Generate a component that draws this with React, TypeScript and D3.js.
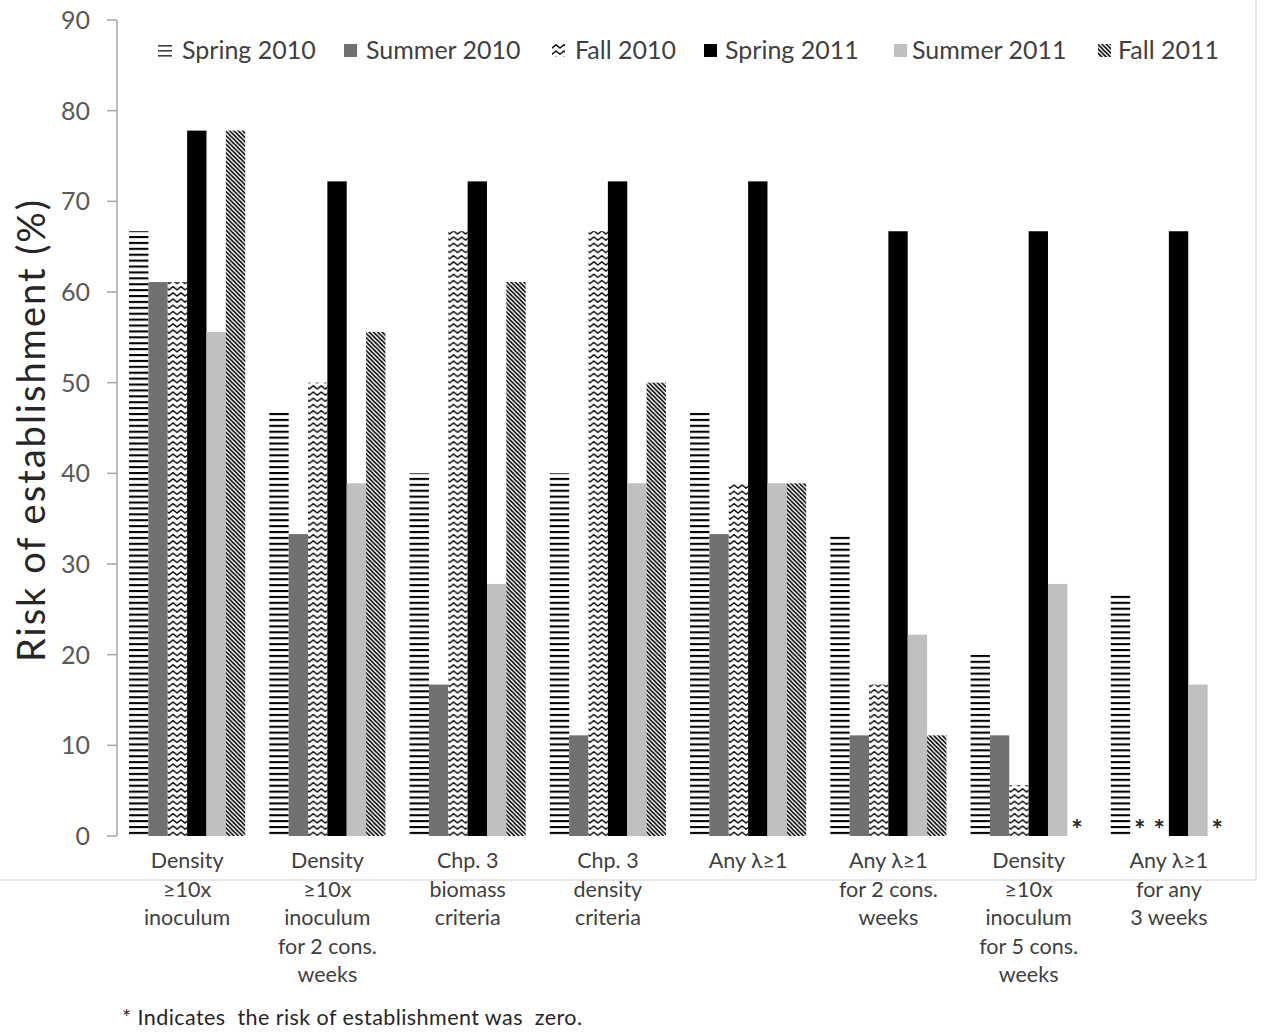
import React from "react";
import * as d3 from "d3";

// Establishment criteria (x categories), one label line per entry
const categories: string[][] = [
  ["Density", "≥10x", "inoculum"],
  ["Density", "≥10x", "inoculum", "for 2 cons.", "weeks"],
  ["Chp. 3", "biomass", "criteria"],
  ["Chp. 3", "density", "criteria"],
  ["Any λ≥1"],
  ["Any λ≥1", "for 2 cons.", "weeks"],
  ["Density", "≥10x", "inoculum", "for 5 cons.", "weeks"],
  ["Any λ≥1", "for any", "3 weeks"],
];

const seriesNames = ["Spring 2010", "Summer 2010", "Fall 2010", "Spring 2011", "Summer 2011", "Fall 2011"];

// Risk of establishment (%) per criterion, one array per season
const spring2010 = [66.7, 46.7, 40.0, 40.0, 46.7, 33.3, 20.0, 26.7];
const summer2010 = [61.1, 33.3, 16.7, 11.1, 33.3, 11.1, 11.1, 0];
const fall2010 = [61.1, 50.0, 66.7, 66.7, 38.9, 16.7, 5.6, 0];
const spring2011 = [77.8, 72.2, 72.2, 72.2, 72.2, 66.7, 66.7, 66.7];
const summer2011 = [55.6, 38.9, 27.8, 38.9, 38.9, 22.2, 27.8, 16.7];
const fall2011 = [77.8, 55.6, 61.1, 50.0, 38.9, 11.1, 0, 0];

const yTicks = [0, 10, 20, 30, 40, 50, 60, 70, 80, 90];

const seriesValues = [spring2010, summer2010, fall2010, spring2011, summer2011, fall2011];
const seriesFills = [
  "url(#pat-hlines)",
  "#717171",
  "url(#pat-wave)",
  "#000000",
  "#bfbfbf",
  "url(#pat-diag)",
];

// legend layout: swatch left edge and label left edge
const legendSwatchX = [158, 344, 552, 704, 894, 1098];
const legendTextX = [182, 366, 575, 725, 912, 1118];

const FONT = "Lato, 'Open Sans', 'DejaVu Sans', sans-serif";
const W = 1264;
const H = 1035;

export default function App() {
  const x0 = d3
    .scaleBand<number>()
    .domain(d3.range(categories.length))
    .range([117, 1239])
    .paddingInner(0.172)
    .paddingOuter(0.086);
  const x1 = d3.scaleBand<number>().domain(d3.range(seriesNames.length)).range([0, x0.bandwidth()]);
  const y = d3.scaleLinear().domain([0, 90]).range([836, 20]);

  return (
    <svg
      width={W}
      height={H}
      viewBox={`0 0 ${W} ${H}`}
      style={{ position: "absolute", left: 0, top: 0, background: "#fff", fontFamily: FONT }}
    >
      <defs>
        <pattern id="pat-hlines" patternUnits="userSpaceOnUse" width={8} height={5.9}>
          <rect x={0} y={0} width={8} height={5.9} fill="#fff" />
          <rect x={0} y={0} width={8} height={2.1} fill="#000" />
        </pattern>
        <pattern id="pat-wave" patternUnits="userSpaceOnUse" width={8} height={6.2}>
          <rect x={0} y={0} width={8} height={6.2} fill="#fff" />
          <path
            d="M-2,1.4 L0,4.6 L4,1.4 L8,4.6 L10,1.4"
            fill="none"
            stroke="#000"
            strokeWidth={1.4}
            strokeLinejoin="round"
          />
        </pattern>
        <pattern id="pat-diag" patternUnits="userSpaceOnUse" width={4.3} height={4.3}>
          <rect x={0} y={0} width={4.3} height={4.3} fill="#fff" />
          <path d="M-1,-1 L5.3,5.3 M-1,3.3 L1,5.3 M3.3,-1 L5.3,1" stroke="#000" strokeWidth={1.6} />
        </pattern>
      </defs>

      <rect x={0} y={0} width={W} height={H} fill="#fff" />

      {/* chart area border */}
      <line x1={0} x2={1256} y1={880} y2={880} stroke="#dedede" strokeWidth={1.5} />
      <line x1={1256} x2={1256} y1={0} y2={880} stroke="#dedede" strokeWidth={1.5} />

      {/* y axis */}
      <line x1={117} x2={117} y1={y(90)} y2={y(0)} stroke="#a6a6a6" strokeWidth={1.5} />
      {yTicks.map((t) => (
        <g key={t}>
          <line x1={107} x2={117} y1={y(t)} y2={y(t)} stroke="#a6a6a6" strokeWidth={1.5} />
          <text x={90} y={y(t)} dy="0.36em" textAnchor="end" fontSize={25} fill="#595959">
            {t}
          </text>
        </g>
      ))}
      <text
        transform={`translate(45,${(y(0) + y(90)) / 2 + 3}) rotate(-90)`}
        textAnchor="middle"
        fontSize={38}
        textLength={462}
        lengthAdjust="spacing"
        fill="#262626"
      >
        Risk of establishment (%)
      </text>

      {/* bars */}
      {categories.map((_, ci) => (
        <g key={ci} transform={`translate(${x0(ci)},0)`}>
          {seriesValues.map((vals, si) => {
            const v = vals[ci];
            const bx = x1(si)!;
            if (v === 0) {
              return (
                <text
                  key={si}
                  x={bx + x1.bandwidth() / 2}
                  y={y(0) + 3}
                  textAnchor="middle"
                  fontSize={27}
                  fontWeight="bold"
                  fill="#262626"
                >
                  *
                </text>
              );
            }
            return (
              <rect
                key={si}
                x={bx}
                y={y(v)}
                width={x1.bandwidth()}
                height={y(0) - y(v)}
                fill={seriesFills[si]}
              />
            );
          })}
        </g>
      ))}

      {/* category labels */}
      {categories.map((lines, ci) => (
        <text
          key={ci}
          x={x0(ci)! + x0.bandwidth() / 2}
          y={868}
          textAnchor="middle"
          fontSize={21.5}
          fill="#404040"
        >
          {lines.map((l, li) => (
            <tspan key={li} x={x0(ci)! + x0.bandwidth() / 2} dy={li === 0 ? 0 : 28.5}>
              {l}
            </tspan>
          ))}
        </text>
      ))}

      {/* legend */}
      {seriesNames.map((name, si) => (
        <g key={name}>
          {si === 0 ? (
            <g fill="#404040">
              {[0, 1, 2].map((k) => (
                <rect key={k} x={legendSwatchX[si]} y={45 + k * 5} width={14} height={1.6} />
              ))}
            </g>
          ) : (
            <rect x={legendSwatchX[si]} y={44} width={13} height={13} fill={seriesFills[si]} />
          )}
          <text x={legendTextX[si]} y={50} dy="0.36em" fontSize={25} fill="#404040">
            {name}
          </text>
        </g>
      ))}

      {/* footnote */}
      <text
        x={122}
        y={1025}
        fontSize={21.5}
        textLength={460}
        lengthAdjust="spacing"
        fill="#262626"
        style={{ whiteSpace: "pre" }}
      >
        {"* Indicates  the risk of establishment was  zero."}
      </text>
    </svg>
  );
}
